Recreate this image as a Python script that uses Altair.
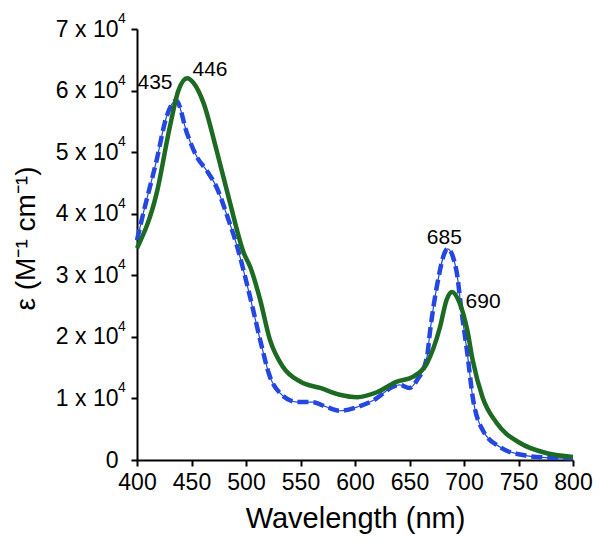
import altair as alt
import pandas as pd

# Green (solid) spectrum: wavelength (nm), epsilon (x 10^4 M^-1 cm^-1)
green_wl = [400, 418, 430, 438, 446, 452, 461, 473, 485, 498, 504, 513, 522, 534, 550,
            568, 586, 602, 620, 638, 653, 666, 678, 684, 689, 696, 703, 708, 717, 730,
            751, 776, 800]
green_eps = [3.44, 4.33, 5.40, 6.00, 6.20, 6.12, 5.80, 5.03, 4.20, 3.36, 3.13, 2.60, 1.95,
             1.51, 1.27, 1.17, 1.06, 1.02, 1.10, 1.27, 1.35, 1.57, 2.16, 2.60, 2.73, 2.55,
             2.11, 1.62, 1.02, 0.60, 0.28, 0.11, 0.05]

# Blue (dashed) spectrum
blue_wl = [400, 405, 418, 427, 436, 446, 455, 464, 473, 483, 492, 497, 506, 513, 522, 531,
           547, 561, 574, 586, 602, 617, 635, 641, 650, 657, 666, 669, 675, 685, 693, 698,
           703, 708, 717, 733, 754, 775, 800]
blue_eps = [3.57, 3.95, 4.87, 5.57, 5.84, 5.30, 4.92, 4.70, 4.43, 3.95, 3.46, 3.13, 2.48,
            1.95, 1.35, 1.09, 0.94, 0.94, 0.86, 0.80, 0.86, 0.97, 1.19, 1.22, 1.17, 1.30,
            1.67, 2.11, 2.81, 3.43, 3.08, 2.38, 1.74, 1.02, 0.49, 0.21, 0.08, 0.04, 0.03]

# Peak annotations
peak_text = ["435", "446", "685", "690"]
peak_wl = [416.5, 467, 682, 717.5]
peak_eps = [6.12, 6.33, 3.60, 2.56]

x_ticks = [400, 450, 500, 550, 600, 650, 700, 750, 800]
y_ticks = [0, 1, 2, 3, 4, 5, 6, 7]
y_exponent = "4"

FONT = "Liberation Sans"

green_df = pd.DataFrame({"wl": green_wl, "eps": green_eps})
blue_df = pd.DataFrame({"wl": blue_wl, "eps": blue_eps})
label_df = pd.DataFrame({"text": peak_text, "wl": peak_wl, "eps": peak_eps})
sup_df = pd.DataFrame({"wl": [x_ticks[0]] * (len(y_ticks) - 1), "eps": y_ticks[1:],
                       "text": [y_exponent] * (len(y_ticks) - 1)})

xscale = alt.Scale(domain=[400, 800], nice=False, zero=False)
yscale = alt.Scale(domain=[0, 7], nice=False)

x_enc = alt.X("wl:Q", scale=xscale, axis=alt.Axis(
    values=x_ticks, title="Wavelength (nm)", grid=False,
    labelFont=FONT, labelFontSize=23, labelColor="black", labelPadding=5,
    titleFont=FONT, titleFontSize=29, titleFontWeight="normal", titleColor="black",
    titlePadding=10, tickSize=6, tickWidth=2, tickColor="black",
    domainColor="black", domainWidth=2, labelFlush=False))

y_enc = alt.Y("eps:Q", scale=yscale, axis=alt.Axis(
    values=y_ticks, title="ε (M⁻¹ cm⁻¹)", grid=False,
    labelExpr="datum.value == 0 ? '0' : datum.value + ' x 10'",
    labelFont=FONT, labelFontSize=23, labelColor="black", labelPadding=13,
    titleFont=FONT, titleFontSize=28, titleFontWeight="normal", titleColor="black",
    titleX=-97, titleY=209,
    tickSize=6, tickWidth=2, tickColor="black",
    domainColor="black", domainWidth=2, labelFlush=False))

blue_thin = alt.Chart(blue_df).mark_line(
    color="#2347e0", strokeWidth=1.2, interpolate="monotone").encode(x=x_enc, y=y_enc)
blue_dash = alt.Chart(blue_df).mark_line(
    color="#2347e0", strokeWidth=4.5, strokeDash=[11, 5], interpolate="monotone").encode(x=x_enc, y=y_enc)
green_line = alt.Chart(green_df).mark_line(
    color="#1d6b22", strokeWidth=4.5, interpolate="monotone").encode(x=x_enc, y=y_enc)

labels = alt.Chart(label_df).mark_text(
    font=FONT, fontSize=21, color="black", align="center", baseline="middle"
).encode(x="wl:Q", y="eps:Q", text="text:N")

# superscript exponent of the y tick labels
sups = alt.Chart(sup_df).mark_text(
    font=FONT, fontSize=14, color="black", align="left", baseline="middle",
    dx=-19, dy=-10
).encode(x="wl:Q", y="eps:Q", text="text:N")

chart = alt.layer(blue_thin, blue_dash, green_line, labels, sups).properties(
    width=436, height=431,
    autosize=alt.AutoSizeParams(type="none"),
    padding={"left": 129, "top": 21, "right": 20, "bottom": 85},
).configure(background="white").configure_view(stroke=None)

chart.save("out.html", embed_options={"renderer": "svg", "actions": False})
